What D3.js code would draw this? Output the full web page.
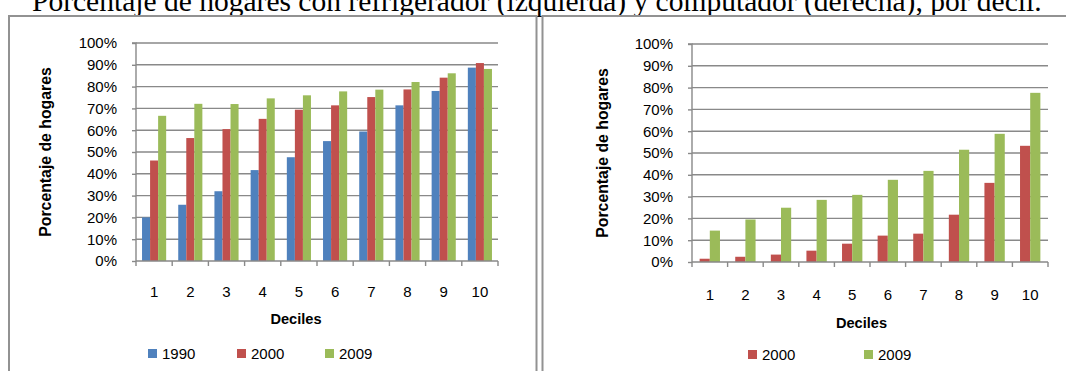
<!DOCTYPE html>
<html><head><meta charset="utf-8">
<script src="https://cdn.jsdelivr.net/npm/d3@7"></script>
<style>
html,body{margin:0;padding:0;background:#fff;overflow:hidden;}
svg{display:block;}
</style></head>
<body>
<svg id="c" width="1066" height="371"></svg>
<script>
const deciles = ["1","2","3","4","5","6","7","8","9","10"];
const yTicks = [0,10,20,30,40,50,60,70,80,90,100];
const fridgeSeries = ["1990","2000","2009"];
const fridge1990 = [20.0,25.8,32.0,41.7,47.6,55.0,59.4,71.4,78.0,88.7];
const fridge2000 = [46.1,56.4,60.5,65.2,69.4,71.4,75.2,78.7,84.1,90.8];
const fridge2009 = [66.6,72.1,72.0,74.6,76.0,77.8,78.6,82.1,86.1,88.1];
const compSeries = ["2000","2009"];
const comp2000 = [1.5,2.4,3.4,5.2,8.4,12.1,13.0,21.7,36.3,53.3];
const comp2009 = [14.4,19.5,24.9,28.5,30.8,37.7,41.8,51.5,58.8,77.6];
const titleText = "Porcentaje de hogares con refrigerador (izquierda) y computador (derecha), por decil.";
const yTitle = "Porcentaje de hogares";
const xTitle = "Deciles";

const colors = {"1990":"#4F81BD","2000":"#C0504D","2009":"#9BBB59"};
const gridColor = "#898989";
const sans = "'Liberation Sans', Arial, sans-serif";
const svg = d3.select("#c");

// Title
const t = svg.append("text").attr("x",32).attr("y",10.5)
  .attr("font-family","'Liberation Serif','Times New Roman',serif")
  .attr("font-size",23).attr("fill","#000").text(titleText);
const tw = t.node().getComputedTextLength();
t.attr("font-size", 23*1010/tw);

// Frames
svg.append("rect").attr("x",9).attr("y",16).attr("width",527.5).attr("height",400)
  .attr("fill","none").attr("stroke","#929292").attr("stroke-width",2);
svg.append("rect").attr("x",542.5).attr("y",16).attr("width",600).attr("height",400)
  .attr("fill","none").attr("stroke","#929292").attr("stroke-width",2);

function drawChart(cfg){
  const g = svg.append("g");
  const x = d3.scaleBand().domain(deciles).range([cfg.x0,cfg.x1]).padding(0);
  const xs = d3.scaleBand().domain(cfg.series).range([0,x.bandwidth()]).paddingInner(0).paddingOuter(0.75);
  const y = d3.scaleLinear().domain([0,100]).range([cfg.yb,cfg.yt]);

  // gridlines
  g.append("g").selectAll("line").data(yTicks.filter(d=>d>0)).join("line")
    .attr("x1",cfg.x0).attr("x2",cfg.x1).attr("y1",d=>y(d)).attr("y2",d=>y(d))
    .attr("stroke",gridColor).attr("stroke-width",1.4);

  // bars
  cfg.series.forEach((s,i)=>{
    g.append("g").selectAll("rect").data(cfg.values[i]).join("rect")
      .attr("x",(d,j)=>x(deciles[j])+xs(s))
      .attr("width",xs.bandwidth())
      .attr("y",d=>y(d)).attr("height",d=>y(0)-y(d))
      .attr("fill",colors[s]);
  });

  // y axis
  const ya = d3.axisLeft(y).tickValues(yTicks).tickFormat(d=>d+"%").tickSize(4).tickPadding(15);
  const yg = g.append("g").attr("transform",`translate(${cfg.x0},0)`).call(ya);
  yg.select(".domain").attr("stroke",gridColor).attr("stroke-width",1.4).attr("d",`M-4,${cfg.yt}H0V${cfg.yb}`);
  yg.selectAll(".tick line").attr("stroke",gridColor).attr("stroke-width",1.4);
  yg.selectAll("text").attr("font-family",sans).attr("font-size",15).attr("fill","#000");

  // x axis
  const xa = d3.axisBottom(x).tickSize(0).tickPadding(cfg.xLabPad);
  const xg = g.append("g").attr("transform",`translate(0,${cfg.yb})`).call(xa);
  xg.select(".domain").attr("stroke",gridColor).attr("stroke-width",1.4).attr("d",`M${cfg.x0},0H${cfg.x1}`);
  xg.selectAll("text").attr("font-family",sans).attr("font-size",15).attr("fill","#000");
  // boundary ticks
  const bounds = deciles.map(d=>x(d)).concat([cfg.x1]);
  g.append("g").selectAll("line").data(bounds).join("line")
    .attr("x1",d=>d).attr("x2",d=>d).attr("y1",cfg.yb).attr("y2",cfg.yb+5)
    .attr("stroke",gridColor).attr("stroke-width",1.4);

  // axis titles
  g.append("text").attr("transform",`translate(${cfg.ytX},${(cfg.yt+cfg.yb)/2}) rotate(-90)`)
    .attr("text-anchor","middle").attr("font-family",sans).attr("font-weight","bold")
    .attr("font-size",15.8).attr("fill","#000").text(yTitle);
  g.append("text").attr("x",cfg.xtX).attr("y",cfg.xtY).attr("text-anchor","middle")
    .attr("font-family",sans).attr("font-weight","bold").attr("font-size",14.6)
    .attr("fill","#000").text(xTitle);

  // legend
  cfg.series.forEach((s,i)=>{
    const lx = cfg.legX[i];
    g.append("rect").attr("x",lx).attr("y",cfg.legY-10).attr("width",9).attr("height",9).attr("fill",colors[s]);
    g.append("text").attr("x",lx+14).attr("y",cfg.legY).attr("font-family",sans)
      .attr("font-size",15).attr("fill","#000").text(s);
  });
}

drawChart({x0:136,x1:498,yt:43,yb:261,series:fridgeSeries,values:[fridge1990,fridge2000,fridge2009],
  xLabPad:25,ytX:51,xtX:296,xtY:324,legX:[148,237,325],legY:359});
drawChart({x0:692,x1:1048,yt:44,yb:262,series:compSeries,values:[comp2000,comp2009],
  xLabPad:27,ytX:608,xtX:861.5,xtY:327.5,legX:[748,864],legY:360});
</script>
</body></html>
